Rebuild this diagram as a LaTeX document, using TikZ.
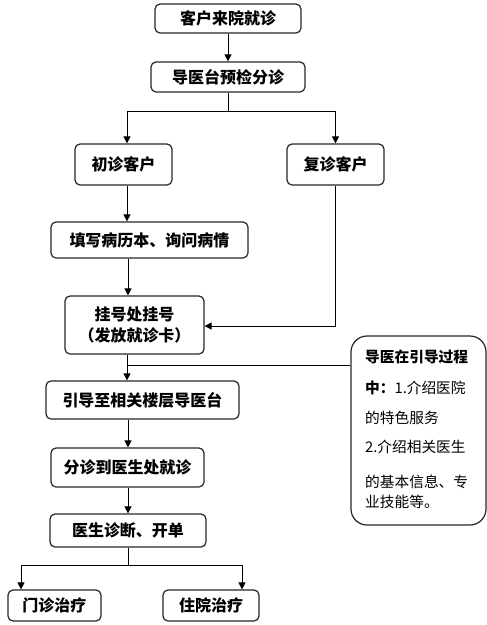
\documentclass[tikz,border=0pt]{standalone}
\usepackage{fontspec}
\newfontfamily\cjk{Noto Sans CJK SC}
\usetikzlibrary{arrows.meta,calc}
\tikzset{
  box/.style={draw=black!85, line width=1.2pt, rounded corners=5pt, inner sep=0pt,
    align=center, font=\cjk\bfseries\fontsize{16}{21}\selectfont},
  notebox/.style={draw=black!85, line width=1.2pt, rounded corners=16pt, inner sep=0pt},
  notetxt/.style={anchor=west, inner sep=0pt, font=\cjk\fontsize{14.7}{17}\selectfont},
  arr/.style={line width=1pt, -{Triangle[width=7pt,length=7pt]}},
  ln/.style={line width=1pt}
}
\begin{document}
\begin{tikzpicture}[x=1pt,y=-1pt]
\useasboundingbox (0,0) rectangle (487,625);
\begin{scope}
\clip (0,0) rectangle (487,625);
\node[box, minimum width=146pt, minimum height=29pt] (b1) at (228,18.5) {客户来院就诊};
\node[box, minimum width=154pt, minimum height=30pt] (b2) at (228,77) {导医台预检分诊};
\node[box, minimum width=97pt, minimum height=41pt] (b3) at (123.5,164.5) {初诊客户};
\node[box, minimum width=97pt, minimum height=41pt] (b4) at (335.5,164.5) {复诊客户};
\node[box, minimum width=197pt, minimum height=36pt] (b5) at (149.5,240) {填写病历本、询问病情};
\node[box, minimum width=139pt, minimum height=58pt] (b6) at (134.5,325) {挂号处挂号\\（发放就诊卡）};
\node[box, minimum width=193pt, minimum height=38pt] (b7) at (142.5,400) {引导至相关楼层导医台};
\node[box, minimum width=153pt, minimum height=39pt] (b8) at (127.5,467.5) {分诊到医生处就诊};
\node[box, minimum width=156pt, minimum height=33pt] (b9) at (128,530.5) {医生诊断、开单};
\node[box, minimum width=93pt, minimum height=31pt] (b10) at (54.5,605.5) {门诊治疗};
\node[box, minimum width=96pt, minimum height=31pt] (b11) at (211,605.5) {住院治疗};
\node[notebox, minimum width=135pt, minimum height=189pt] (nb) at (418.5,430.5) {};
\node[notetxt, font=\cjk\bfseries\fontsize{14.7}{17}\selectfont] (n1) at (365,357) {导医在引导过程};
\node[notetxt] (n2) at (365,388) {{\bfseries 中：}1.介绍医院};
\node[notetxt] (n3) at (365,418) {的特色服务};
\node[notetxt] (n4) at (365,447) {2.介绍相关医生};
\node[notetxt] (n5) at (365,482) {的基本信息、专};
\node[notetxt] (n6) at (365,502) {业技能等。};
% connectors
\draw[arr] (b1) -- (b2);
\coordinate (s1) at (228,111);
\coordinate (s1l) at (127,111);
\coordinate (s1r) at (335.5,111);
\draw[ln] (b2.south) -- (s1);
\draw[ln] (s1l) -- (s1r);
\draw[arr] (s1l) -- (s1l |- b3.north);
\draw[arr] (s1r) -- (b4.north);
\draw[arr] (b3.south -| s1l) -- (b5.north -| s1l);
\draw[arr] (b5.south -| 128,0) -- (b6.north -| 128,0);
\coordinate (c4) at (335.5,326);
\draw[ln] (b4.south) -- (c4);
\draw[arr] (c4) -- (c4 -| b6.east);
\draw[arr] (b6.south -| 127,0) -- (b7.north -| 127,0);
\coordinate (j7) at (127,365);
\draw[ln] (j7) -- (j7 -| nb.west);
\draw[arr] (b7.south -| 128,0) -- (b8.north -| 128,0);
\draw[arr] (b8.south -| 128,0) -- (b9.north -| 128,0);
\coordinate (s9) at (128,565);
\coordinate (s9l) at (21,565);
\coordinate (s9r) at (242,565);
\draw[ln] (b9.south) -- (s9);
\draw[ln] (s9l) -- (s9r);
\draw[arr] (s9l) -- (s9l |- b10.north);
\draw[arr] (s9r) -- (s9r |- b11.north);
\end{scope}
\end{tikzpicture}
\end{document}
